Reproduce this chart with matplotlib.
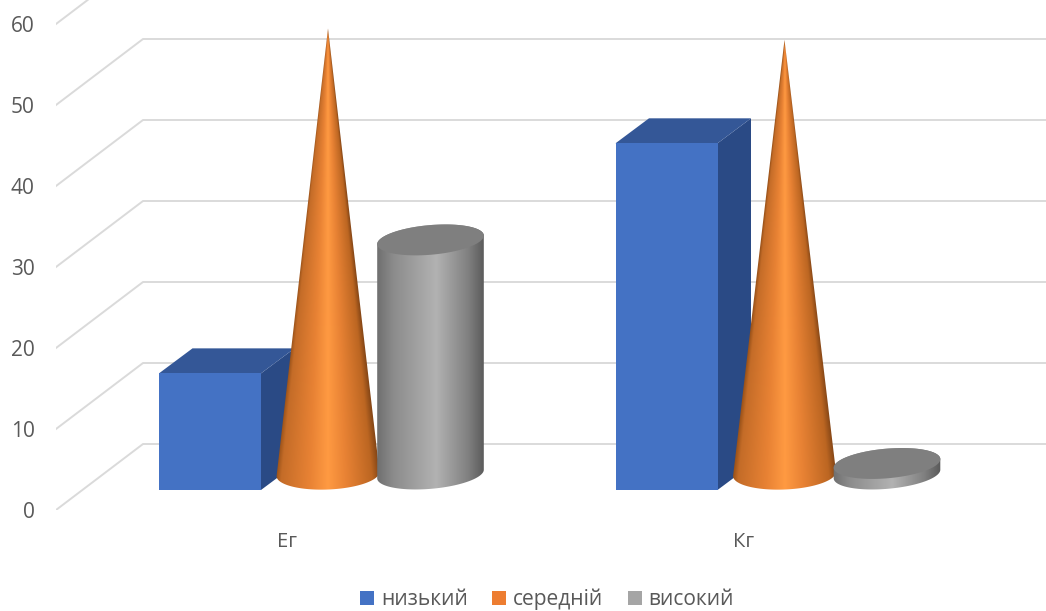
import numpy as np
import matplotlib
matplotlib.use("Agg")
import matplotlib.pyplot as plt
from matplotlib.colors import to_rgb
from matplotlib.patches import Polygon, Patch

categories = ["Ег", "Кг"]
series_names = ["низький", "середній", "високий"]
low = [14.4, 42.8]
mid = [55.0, 53.6]
high = [28.9, 1.3]
y_ticks = [0, 10, 20, 30, 40, 50, 60]

plt.rcParams['font.family'] = ['Open Sans', 'DejaVu Sans']
TXT = '#595959'
W, H = 1046, 611
L, R, T, B = 56, 1046, 0, 510          # axes rectangle in pixels
PXU = 8.1                              # pixels per value unit
PXC = 456.5                            # pixels per category
CAT0 = 287

fig = plt.figure(figsize=(W/100, H/100), dpi=100)
ax = fig.add_axes([L/W, 1-B/H, (R-L)/W, (B-T)/H])
ax.set_xlim((L-CAT0)/PXC, (R-CAT0)/PXC)
ax.set_ylim(0, (B-T)/PXU)

def dx(px): return px/PXC
def dy(px): return px/PXU

floor = dy(20)         # front edge of the bars above the axis zero
wall = dy(66)          # back wall above the axis zero
wall_x = dx(87)
x0 = ax.get_xlim()[0]; x1 = ax.get_xlim()[1]

# gridlines
for v in y_ticks:
    ax.plot([x0, x0+wall_x, x1], [v, v+wall, v+wall], color='#DADADA', lw=1.4, zorder=1)

# --- helpers
def ellipse(cx, cy, a=53.5, b=14.8, tilt=5.0, t=None):
    if t is None:
        t = np.linspace(0, 2*np.pi, 200)
    ph = np.radians(tilt)
    ex = a*np.cos(t)*np.cos(ph) - b*np.sin(t)*np.sin(ph)
    ey = a*np.cos(t)*np.sin(ph) + b*np.sin(t)*np.cos(ph)
    return cx + dx(ex), cy + dy(ey)

def shade(u, stops):
    us = [s[0] for s in stops]
    cols = np.array([to_rgb(s[1]) for s in stops])
    return np.dstack([np.interp(u, us, cols[:, i]) for i in range(3)])

CONE = [(-1, '#9A5219'), (-.9, '#C46C28'), (-.35, '#E88234'), (0, '#FF9A42'),
        (.35, '#E88234'), (.85, '#BC6622'), (1, '#854616')]
CYL = [(-1, '#707070'), (-.7, '#8C8C8C'), (.1, '#B2B2B2'), (.7, '#808080'), (1, '#5A5A5A')]

def cone(xc, value, z):
    yb = floor + dy(16)
    tip = yb + value
    t = np.linspace(np.pi, 2*np.pi, 100)
    ex, ey = ellipse(xc, yb, a=51.5, b=15.5, tilt=2.5, t=t)
    px = np.r_[xc, ex]; py = np.r_[tip, ey]
    xs = np.linspace(xc-dx(56), xc+dx(56), 400)
    ys = np.linspace(yb-dy(20), tip, 600)
    X, Y = np.meshgrid(xs, ys)
    hw = np.clip((tip-Y)/(tip-yb), 1e-4, None)*dx(51.5)
    U = np.clip((X-xc)/hw, -1, 1)
    im = ax.imshow(shade(U, CONE), extent=[xs[0], xs[-1], ys[0], ys[-1]], origin='lower',
                   aspect='auto', zorder=z, interpolation='bilinear')
    im.set_clip_path(Polygon(np.c_[px, py], transform=ax.transData))

def cylinder(xc, value, z):
    yb = floor + dy(16)
    top = yb + value
    bx, by = ellipse(xc, yb, t=np.linspace(np.pi, 2*np.pi, 100))
    tx, ty = ellipse(xc, top, t=np.linspace(0, np.pi, 100))
    px = np.r_[bx, tx]; py = np.r_[by, ty]
    xs = np.linspace(xc-dx(56), xc+dx(56), 300)
    ys = np.array([yb-dy(22), top+dy(22)])
    X, Y = np.meshgrid(xs, ys)
    U = np.clip((X-xc)/dx(53.5), -1, 1)
    im = ax.imshow(shade(U, CYL), extent=[xs[0], xs[-1], ys[0], ys[-1]], origin='lower',
                   aspect='auto', zorder=z, interpolation='bilinear')
    im.set_clip_path(Polygon(np.c_[px, py], transform=ax.transData))
    ex, ey = ellipse(xc, top)
    ax.fill(ex, ey, color='#7F7F7F', lw=0, zorder=z+.1)

# --- marks
xpos = np.arange(len(categories))
off_low, off_mid, off_high = dx(-77), dx(41), dx(143.5)
bw = dx(102)
ddx, ddy = dx(33.5), dy(25)
for i in xpos:
    xl = i + off_low - bw/2
    xr = xl + bw
    top = floor + low[i]
    ax.bar(i+off_low, low[i], bw, bottom=floor, color='#4472C4', lw=0, zorder=3.2)
    ax.add_patch(Polygon([(xr, floor), (xr+ddx, floor+ddy), (xr+ddx, top+ddy), (xr, top)],
                         color='#2A4A85', lw=0, zorder=3))
    ax.add_patch(Polygon([(xl, top), (xl+ddx, top+ddy), (xr+ddx, top+ddy), (xr, top)],
                         color='#345797', lw=0, zorder=3.1))
    cone(i+off_mid, mid[i], 4)
    cylinder(i+off_high, high[i], 5)

ax.set_xlim(x0, x1)
ax.set_ylim(0, (B-T)/PXU)

# --- axes text
for s in ax.spines.values():
    s.set_visible(False)
ax.patch.set_alpha(0)
ax.set_yticks(y_ticks)
ax.set_xticks(xpos)
ax.set_xticklabels(categories)
ax.tick_params(axis='y', length=0, pad=15.5, labelsize=15, labelcolor=TXT)
ax.tick_params(axis='x', length=0, pad=16, labelsize=14.5, labelcolor=TXT)

# --- legend
colors = ['#4472C4', '#ED7D31', '#A5A5A5']
handles = [Patch(color=c, lw=0) for c in colors]
fig.legend(handles, series_names, loc='center', bbox_to_anchor=(547/W, 1-599.5/H), ncol=3,
           frameon=False, fontsize=15.1, labelcolor=TXT, handlelength=0.67, handleheight=0.67,
           handletextpad=0.3, columnspacing=1.18, borderpad=0)

fig.savefig('out.png', dpi=100)
